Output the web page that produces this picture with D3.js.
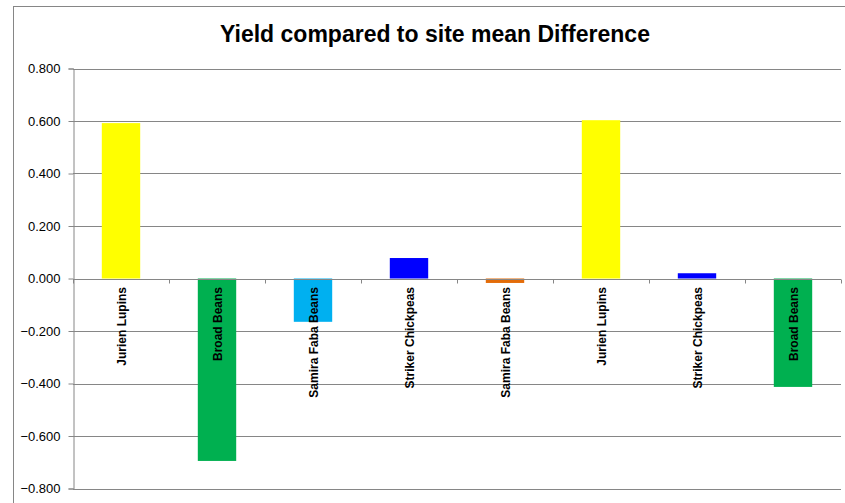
<!DOCTYPE html>
<html>
<head>
<meta charset="utf-8">
<script src="https://cdn.jsdelivr.net/npm/d3@7"></script>
<style>
  body { margin: 0; background: #fff; }
  svg { display: block; font-family: "Liberation Sans", Arial, sans-serif; }
</style>
</head>
<body>
<svg id="chart" width="845" height="503"></svg>
<script>
// chart data
var categories = ["Jurien Lupins", "Broad Beans", "Samira Faba Beans", "Striker Chickpeas",
	"Samira Faba Beans", "Jurien Lupins", "Striker Chickpeas", "Broad Beans"];
var values = [0.592, -0.695, -0.165, 0.078, -0.017, 0.603, 0.020, -0.413];
var barColors = ["#FFFF00", "#00B050", "#00B0F0", "#0000FF", "#E36C09", "#FFFF00", "#0000FF", "#00B050"];
var yTicks = [0.8, 0.6, 0.4, 0.2, 0, -0.2, -0.4, -0.6, -0.8];
var title = "Yield compared to site mean Difference";

var svg = d3.select("#chart");
var margin = { left: 73, right: 4, top: 68, bottom: 14 };
var plotWidth = 768;

// outer chart border
svg.append("rect")
	.attr("x", 13.5).attr("y", 6.5)
	.attr("width", 840).attr("height", 520)
	.attr("fill", "none")
	.attr("stroke", "#868686");

svg.append("text")
	.text(title)
	.attr("x", 435).attr("y", 42)
	.attr("text-anchor", "middle")
	.attr("font-size", 23)
	.attr("font-weight", "bold")
	.attr("fill", "#000");

var x = d3.scaleBand()
	.domain(d3.range(categories.length))
	.range([margin.left, margin.left + plotWidth])
	.paddingInner(0.6)
	.paddingOuter(0.3);

var y = d3.scaleLinear()
	.domain([-0.8, 0.8])
	.range([488.5, 68.5]);

// gridlines
svg.append("g")
	.selectAll("line")
	.data(yTicks)
	.join("line")
	.attr("x1", margin.left).attr("x2", margin.left + plotWidth)
	.attr("y1", function(d) { return Math.round(y(d)) + 0.5; })
	.attr("y2", function(d) { return Math.round(y(d)) + 0.5; })
	.attr("stroke", "#868686")
	.attr("stroke-width", 1);

// y axis
var yAxis = svg.append("g")
	.attr("transform", "translate(" + (margin.left + 0.5) + ",0)")
	.call(d3.axisLeft(y).tickValues(yTicks).tickFormat(d3.format(".3f")).tickSize(5).tickPadding(8));
yAxis.select(".domain").attr("stroke", "#868686");
yAxis.selectAll(".tick line").attr("stroke", "#868686");
yAxis.selectAll(".tick text")
	.attr("font-size", 13)
	.attr("fill", "#000")
	.attr("font-family", "Liberation Sans, Arial, sans-serif");

// bars
svg.append("g")
	.selectAll("rect")
	.data(values)
	.join("rect")
	.attr("x", function(d, i) { return x(i); })
	.attr("width", x.bandwidth())
	.attr("y", function(d) { return y(Math.max(0, d)); })
	.attr("height", function(d) { return Math.abs(y(d) - y(0)); })
	.attr("fill", function(d, i) { return barColors[i]; });

// category axis at zero, with ticks between the bands
var boundaries = d3.range(categories.length + 1).map(function(i) { return margin.left + i * x.step() / (1 - 0) ; });
boundaries = d3.range(categories.length + 1).map(function(i) { return margin.left + i * plotWidth / categories.length; });
var zeroY = Math.round(y(0)) + 0.5;
svg.append("line")
	.attr("x1", margin.left).attr("x2", margin.left + plotWidth)
	.attr("y1", zeroY).attr("y2", zeroY)
	.attr("stroke", "#868686");
svg.append("g")
	.selectAll("line")
	.data(boundaries)
	.join("line")
	.attr("x1", function(d) { return d + 0.5; }).attr("x2", function(d) { return d + 0.5; })
	.attr("y1", zeroY).attr("y2", zeroY + 4)
	.attr("stroke", "#868686");

// rotated category labels
svg.append("g")
	.selectAll("text")
	.data(categories)
	.join("text")
	.text(function(d) { return d; })
	.attr("transform", function(d, i) {
		return "translate(" + (x(i) + x.bandwidth() / 2 + 5) + "," + 287 + ") rotate(-90)";
	})
	.attr("text-anchor", "end")
	.attr("font-size", 12)
	.attr("font-weight", "bold")
	.attr("fill", "#000");
</script>
</body>
</html>
